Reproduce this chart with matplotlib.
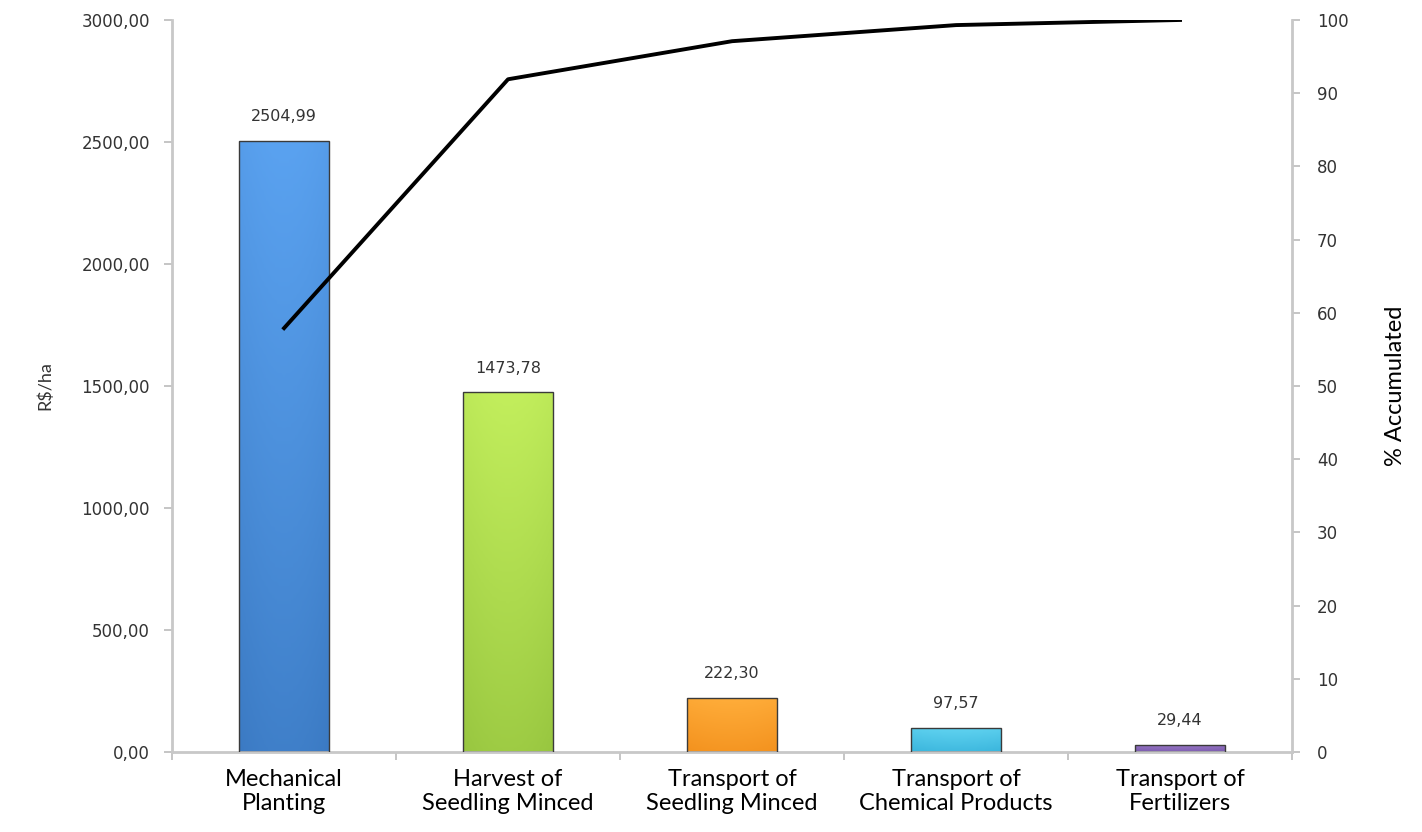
import numpy as np
import matplotlib
matplotlib.use("Agg")
import matplotlib.pyplot as plt
from matplotlib.colors import LinearSegmentedColormap

# Values
categories = ["Mechanical\nPlanting", "Harvest of\nSeedling Minced",
              "Transport of\nSeedling Minced", "Transport of\nChemical Products",
              "Transport of\nFertilizers"]
costs = [2504.99, 1473.78, 222.30, 97.57, 29.44]
cost_labels = ["2504,99", "1473,78", "222,30", "97,57", "29,44"]
accumulated = [57.9, 91.9, 97.1, 99.3, 100.0]

left_ticks = [0, 500, 1000, 1500, 2000, 2500, 3000]
left_tick_labels = ["0,00", "500,00", "1000,00", "1500,00", "2000,00", "2500,00", "3000,00"]
right_ticks = list(range(0, 101, 10))

# top / bottom colours for the bar gradients
bar_colors = [("#5aa2f0", "#2e69b0"), ("#c2ee5c", "#86b534"), ("#ffad3a", "#ee8612"),
              ("#5fd2f0", "#2aa9d4"), ("#9a78c8", "#6c4ea0")]

plt.rcParams['font.family'] = ['Lato', 'DejaVu Sans']
num_font = ['DejaVu Sans']

fig = plt.figure(figsize=(14.22, 8.32), dpi=100)
ax = fig.add_axes([0.121, 0.0962, 0.7876, 0.8798])

x = np.arange(len(costs))
bars = ax.bar(x, costs, width=0.4, color="none", edgecolor="#3a3a3a", linewidth=1.0, zorder=3)

# gradient fill clipped to each bar
for b, (c_top, c_bot) in zip(bars, bar_colors):
    cmap = LinearSegmentedColormap.from_list("g", [c_bot, c_top])
    x0, y0 = b.get_x(), b.get_y()
    w, h = b.get_width(), b.get_height()
    grad = np.linspace(0, 1, 100).reshape(-1, 1)
    horiz = 1 - 0.25 * np.abs(np.linspace(-1, 1, 50)) ** 2
    img = ax.imshow(grad * 0.6 + 0.4 * horiz[None, :], cmap=cmap, origin="lower",
                    extent=[x0, x0 + w, y0, y0 + h], aspect="auto", zorder=2,
                    vmin=0, vmax=1)
    img.set_clip_path(b)

for xi, v, lab in zip(x, costs, cost_labels):
    ax.annotate(lab, (xi, v), xytext=(0, 12), textcoords="offset points",
                ha="center", va="bottom", fontsize=11.5, color="#333333",
                family=num_font)

ax.set_xlim(-0.5, len(costs) - 0.5)
ax.set_ylim(0, 3000)
ax.set_yticks(left_ticks)
ax.set_yticklabels(left_tick_labels, family=num_font)
ax.set_xticks(x)
ax.set_xticklabels(categories, fontsize=17, color="black", linespacing=1.22)
ax.set_xticks(np.arange(-0.5, len(costs)), minor=True)
ax.tick_params(axis="x", which="major", length=0, pad=12)
ax.tick_params(axis="x", which="minor", length=6, color="#bbbbbb", width=1.2)
ax.tick_params(axis="y", length=6, color="#bbbbbb", width=1.2, labelsize=12,
               labelcolor="#333333", pad=10)
ax.set_ylabel("R$/ha", fontsize=13, color="#333333", labelpad=20)

for side in ["top", "right"]:
    ax.spines[side].set_visible(False)
for side in ["left", "bottom"]:
    ax.spines[side].set_color("#c8c8c8")
    ax.spines[side].set_linewidth(2)

ax2 = ax.twinx()
ax2.plot(x, accumulated, color="black", lw=2.8, zorder=5, solid_joinstyle="round")
ax2.set_ylim(0, 100)
ax2.set_yticks(right_ticks)
ax2.set_yticklabels([str(t) for t in right_ticks], family=num_font)
ax2.tick_params(axis="y", length=6, color="#bbbbbb", width=1.2, labelsize=12,
                labelcolor="#333333", pad=12)
ax2.set_ylabel("% Accumulated", fontsize=17, color="black", rotation=90, labelpad=26)
for side in ["top", "left", "bottom"]:
    ax2.spines[side].set_visible(False)
ax2.spines["right"].set_color("#c8c8c8")
ax2.spines["right"].set_linewidth(2)

fig.savefig("out.png", dpi=100)
